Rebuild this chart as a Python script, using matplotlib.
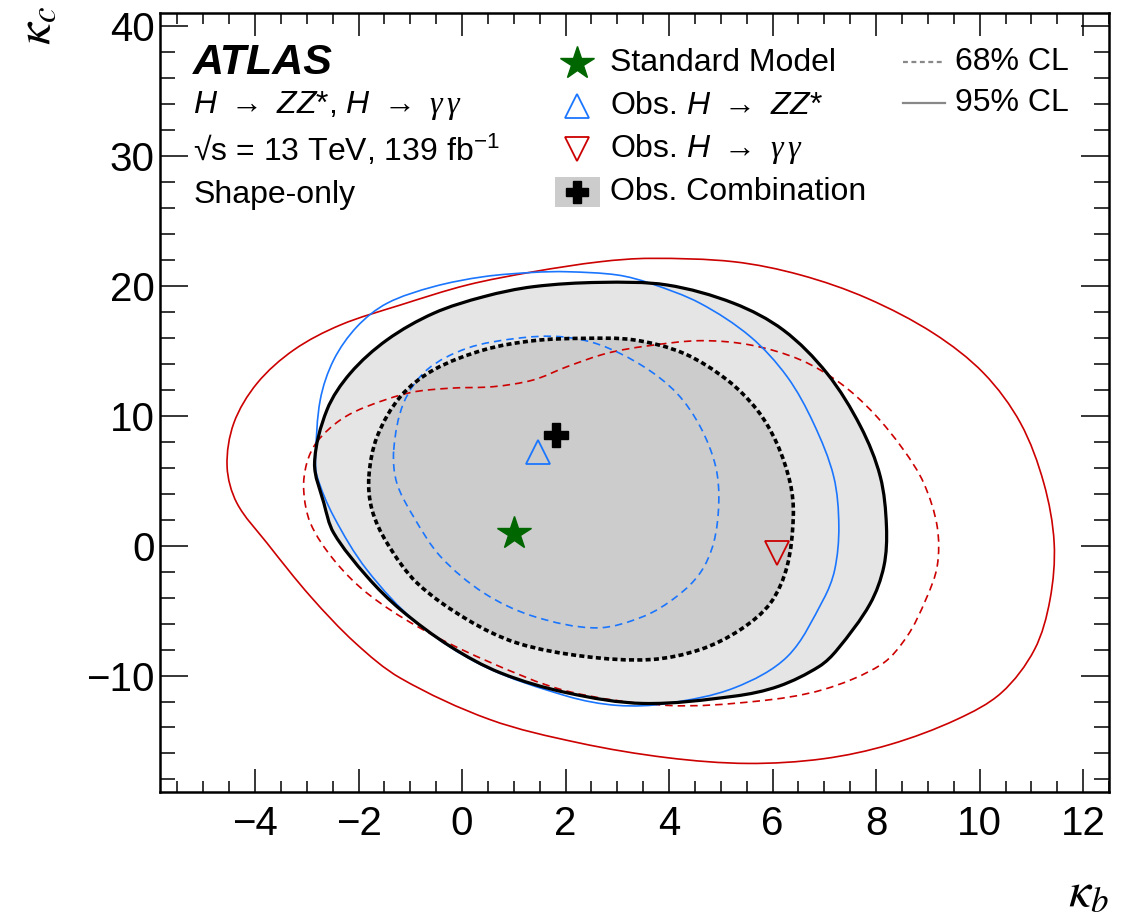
import numpy as np
import matplotlib
matplotlib.use("Agg")
import matplotlib.pyplot as plt
from matplotlib.patches import Rectangle, PathPatch
from matplotlib.path import Path
import matplotlib.ticker as ticker

plt.rcParams['font.family'] = ['Liberation Sans', 'DejaVu Sans']
plt.rcParams['mathtext.fontset'] = 'custom'
plt.rcParams['mathtext.rm'] = 'Liberation Sans'
plt.rcParams['mathtext.it'] = 'Liberation Sans:italic'
plt.rcParams['mathtext.bf'] = 'Liberation Sans:bold'
plt.rcParams['mathtext.sf'] = 'Liberation Serif:italic'

# combination, 95% CL (solid) and 68% CL (dashed)
comb95_x = [-2.85, -2.61, -2.16, -1.45, -0.55, 0.42, 1.38, 2.67, 3.96, 5.25, 6.21, 7.05, 7.70, 8.08, 8.20,
            8.15, 7.88, 7.25, 6.90, 6.12, 5.26, 3.51, 2.03, 0.74, -0.23, -1.19, -1.84, -2.48, -2.67]
comb95_y = [6.36, 10.46, 13.28, 15.85, 17.90, 19.18, 19.95, 20.28, 20.08, 18.67, 16.60, 13.28, 9.18, 5.33, 1.48,
            -1.59, -4.50, -8.00, -9.30, -10.82, -11.59, -12.15, -11.33, -9.79, -7.75, -4.92, -2.36, 0.98, 3.28]
comb68_x = [-1.80, -1.64, -1.19, -0.55, 0.42, 1.38, 2.35, 3.32, 4.28, 5.12, 5.70, 6.08, 6.34, 6.40,
            6.28, 5.96, 5.38, 4.60, 3.64, 2.35, 1.06, 0.10, -0.87, -1.45, -1.74]
comb68_y = [5.33, 8.41, 11.49, 13.54, 15.08, 15.79, 15.97, 15.85, 14.82, 12.77, 10.46, 7.90, 4.82, 2.25,
            -1.59, -4.41, -6.46, -8.00, -8.77, -8.52, -7.49, -5.69, -2.87, 0.21, 2.77]

# H -> ZZ*
zz95_x = [-2.83, -2.74, -2.48, -2.03, -1.45, -0.55, 0.42, 1.38, 2.03, 3.00, 3.64, 4.60, 5.57, 6.28, 6.79, 7.18,
          7.28, 7.20, 6.98, 6.29, 5.26, 3.96, 3.00, 2.03, 0.42, -0.87, -1.84, -2.48, -2.80]
zz95_y = [6.87, 11.23, 14.31, 16.87, 18.67, 19.95, 20.72, 21.05, 21.10, 20.85, 20.20, 18.67, 16.10, 13.02, 9.44, 5.33,
          1.48, -1.85, -4.15, -8.52, -10.95, -12.15, -12.30, -11.59, -9.28, -5.95, -1.85, 2.25, 5.33]
zz68_x = [-1.32, -1.13, -0.68, 0.10, 1.06, 1.90, 2.67, 3.51, 4.15, 4.60, 4.90, 4.96, 4.86, 4.60, 4.15, 3.51,
          2.60, 1.38, 0.42, -0.42, -0.94, -1.26]
zz68_y = [7.38, 10.98, 13.54, 15.21, 15.97, 16.10, 15.46, 13.79, 11.74, 9.18, 6.10, 3.28, 0.21, -2.10, -3.90, -5.44,
          -6.33, -5.44, -3.64, -0.82, 2.25, 4.82]

# H -> gamma gamma
yy95_x = [-4.54, -4.41, -3.96, -3.25, -2.35, -1.19, 0.10, 1.38, 2.67, 3.64, 5.25, 6.54, 7.83, 9.11, 10.08,
          10.79, 11.24, 11.44, 11.36, 11.06, 10.42, 9.56, 8.27, 6.98, 5.52, 3.97, 2.25, 0.53, -1.19, -2.06,
          -2.93, -3.77, -4.35]
yy95_y = [6.10, 9.44, 12.51, 15.08, 17.00, 18.54, 20.08, 21.10, 21.87, 22.13, 21.87, 20.85, 19.05, 16.36, 13.28,
          9.44, 4.82, 0.20, -4.15, -8.00, -11.33, -13.38, -15.31, -16.41, -16.77, -16.33, -15.18, -13.38, -10.20, -7.50,
          -3.90, 0.21, 3.28]
yy68_x = [-2.80, -2.35, -1.84, -1.00, -0.23, 0.61, 1.38, 2.03, 2.80, 3.57, 4.60, 5.57, 6.54, 7.31, 7.95, 8.53,
          8.92, 9.18, 9.18, 8.96, 8.60, 8.10, 6.98, 5.69, 3.97, 2.03, 0.42, -0.87, -1.84, -2.48, -2.93,
          -3.06, -3.00]
yy68_y = [8.02, 9.69, 10.72, 11.79, 12.13, 12.25, 12.77, 13.79, 14.82, 15.38, 15.79, 15.46, 14.31, 12.51, 10.21, 7.38,
          4.82, 1.48, -1.59, -4.15, -6.97, -9.15, -11.08, -11.98, -12.30, -11.20, -8.77, -6.21, -3.64, -1.08, 1.74,
          4.31, 6.36]

# best-fit points
sm_point = (1.0, 1.0)
zz_best = (1.47, 7.25)
yy_best = (6.09, -0.6)
comb_best = (1.82, 8.49)

red = '#cc0000'
blue = '#1a75ff'
green = '#006600'


def smooth_path(xs, ys):
    # closed curve through the read points: cubic bezier segments with
    # chord-length tangents, worked out in screen space
    p = ax.transData.transform(np.column_stack([xs, ys]))
    n = len(p)
    d = np.hypot(*(np.roll(p, -1, axis=0) - p).T)  # d[i] = |p[i+1] - p[i]|
    t = (np.roll(p, -1, axis=0) - np.roll(p, 1, axis=0)) / (d + np.roll(d, 1))[:, None]
    verts = [p[0]]
    codes = [Path.MOVETO]
    for i in range(n):
        j = (i + 1) % n
        verts += [p[i] + t[i] * d[i] / 3, p[j] - t[j] * d[i] / 3, p[j]]
        codes += [Path.CURVE4] * 3
    verts = ax.transData.inverted().transform(np.array(verts))
    return Path(verts, codes)


def contour(xs, ys, **kw):
    ax.add_patch(PathPatch(smooth_path(xs, ys), **kw))


fig = plt.figure(figsize=(11.29, 9.15), dpi=100)
ax = fig.add_axes([0.142, 0.134, 0.8403, 0.8514])
ax.set_xlim(-5.83, 12.5)
ax.set_ylim(-19, 41)

contour(comb95_x, comb95_y, facecolor='#e5e5e5', lw=0, zorder=1)
contour(comb68_x, comb68_y, facecolor='#cccccc', lw=0, zorder=2)

contour(yy95_x, yy95_y, fill=False, edgecolor=red, lw=1.2, zorder=3)
contour(yy68_x, yy68_y, fill=False, edgecolor=red, lw=1.2, ls=(0, (4.5, 3)), zorder=3)
contour(zz95_x, zz95_y, fill=False, edgecolor=blue, lw=1.2, zorder=4)
contour(zz68_x, zz68_y, fill=False, edgecolor=blue, lw=1.2, ls=(0, (4.5, 3)), zorder=4)
contour(comb95_x, comb95_y, fill=False, edgecolor='black', lw=2.3, zorder=5)
contour(comb68_x, comb68_y, fill=False, edgecolor='black', lw=2.6, ls=(0, (1.4, 0.9)), zorder=5)

ax.plot(*sm_point, marker='*', ms=25, color=green, zorder=6)
ax.plot(*zz_best, marker='^', ms=17, mfc='none', mec=blue, mew=1.3, zorder=6)
ax.plot(*yy_best, marker='v', ms=17, mfc='none', mec=red, mew=1.3, zorder=6)
ax.plot(*comb_best, marker='P', ms=17, color='black', zorder=6)

ax.xaxis.set_major_locator(ticker.MultipleLocator(2))
ax.xaxis.set_minor_locator(ticker.MultipleLocator(0.5))
ax.yaxis.set_major_locator(ticker.MultipleLocator(10))
ax.yaxis.set_minor_locator(ticker.MultipleLocator(2))
ax.tick_params(axis='both', which='both', direction='in', top=True, right=True, width=1.1)
ax.tick_params(axis='x', which='major', length=16.5, labelsize=29, pad=9)
ax.tick_params(axis='x', which='minor', length=8)
ax.tick_params(axis='y', which='major', length=20, labelsize=29, pad=4)
ax.tick_params(axis='y', which='minor', length=10.8)
for s in ax.spines.values():
    s.set_linewidth(1.8)

fig.text(0.032, 0.993, r'$\kappa_{c}$', fontsize=36, rotation=90, ha='center', va='top', math_fontfamily='stix')
fig.text(0.982, 0.0, r'$\kappa_{b}$', fontsize=36, ha='right', va='bottom', math_fontfamily='stix')

gg = r'$\mathsf{\gamma}\,\mathsf{\gamma}$'
arrow = r' $\rightarrow$ '

# labels, top left
tx = 0.0345
ax.text(tx, 0.936, 'ATLAS', transform=ax.transAxes, fontsize=31, fontweight='bold', fontstyle='italic', va='center')
ax.text(tx, 0.882, r'$H$' + arrow + r'$ZZ$*, $H$' + arrow + gg, transform=ax.transAxes, fontsize=23, va='center')
ax.text(tx, 0.824, r'√s = 13 TeV, 139 fb$^{-1}$', transform=ax.transAxes, fontsize=23, va='center')
ax.text(tx, 0.767, 'Shape-only', transform=ax.transAxes, fontsize=23, va='center')

# legend
mx, lx = 0.439, 0.474
ax.plot(mx, 0.936, transform=ax.transAxes, marker='*', ms=25, color=green)
ax.plot(mx, 0.881, transform=ax.transAxes, marker='^', ms=17, mfc='none', mec=blue, mew=1.3)
ax.plot(mx, 0.826, transform=ax.transAxes, marker='v', ms=17, mfc='none', mec=red, mew=1.3)
ax.add_patch(Rectangle((0.416, 0.751), 0.047, 0.039, transform=ax.transAxes, color='#cccccc', lw=0))
ax.plot(mx, 0.771, transform=ax.transAxes, marker='P', ms=16, color='black')
ax.text(lx, 0.936, 'Standard Model', transform=ax.transAxes, fontsize=23, va='center')
ax.text(lx, 0.881, r'Obs. $H$' + arrow + r'$ZZ$*', transform=ax.transAxes, fontsize=23, va='center')
ax.text(lx, 0.826, r'Obs. $H$' + arrow + gg, transform=ax.transAxes, fontsize=23, va='center')
ax.text(lx, 0.771, 'Obs. Combination', transform=ax.transAxes, fontsize=23, va='center')

ax.plot([0.783, 0.827], [0.937, 0.937], transform=ax.transAxes, color='#888888', lw=1.6, dashes=(2.2, 1.6))
ax.plot([0.783, 0.827], [0.885, 0.885], transform=ax.transAxes, color='#888888', lw=1.6)
ax.text(0.838, 0.937, '68% CL', transform=ax.transAxes, fontsize=23, va='center')
ax.text(0.838, 0.885, '95% CL', transform=ax.transAxes, fontsize=23, va='center')

fig.savefig('out.png', dpi=100)
